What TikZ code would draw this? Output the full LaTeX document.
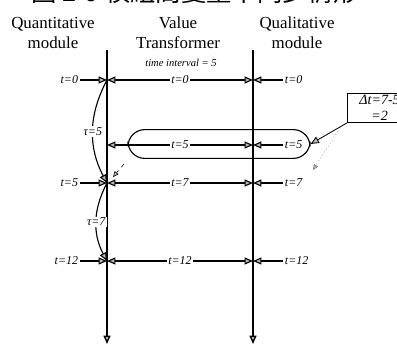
\documentclass[tikz,border=0pt]{standalone}
\usepackage{fontspec}
\setmainfont{Liberation Serif}
\newfontfamily\cjk{Noto Sans CJK TC}
\usetikzlibrary{arrows.meta}

\tikzset{
  tip/.style={-{Triangle[length=6pt, width=5pt, fill=gray!55]}},
  twotip/.style={{Triangle[length=6pt, width=5pt, fill=gray!55]}-{Triangle[length=6pt, width=5pt, fill=gray!55]}},
  tlab/.style={font=\fontsize{8.5}{9}\selectfont\itshape, fill=white, inner sep=1pt},
  head/.style={font=\fontsize{12}{14}\selectfont, align=center}
}

\begin{document}
\begin{tikzpicture}[x=0.025cm, y=-0.025cm, line width=0.8pt]
  \useasboundingbox (0,0) rectangle (397,347);
  % title, cut at the top
  \node[font=\cjk\fontsize{18}{18}\selectfont, anchor=base] (title) at (195,2)
    {圖 2-9 模組間變量不同步情形};
  % the three columns
  \node[head] (quan) at (53,33) {Quantitative\\module};
  \node[head] (vt) at (178,33) {Value\\Transformer};
  \node[head] (qual) at (297,33) {Qualitative\\module};
  \node[font=\fontsize{7.5}{8}\selectfont\itshape] (tint) at (181,63) {time interval = 5};
  % the two time lines
  \coordinate (Ltop) at (107,50);
  \coordinate (Lbot) at (107,344);
  \coordinate (Rtop) at (253,50);
  \coordinate (Rbot) at (253,344);
  \draw[line width=1pt, tip] (Ltop) -- (Lbot);
  \draw[line width=1pt, tip] (Rtop) -- (Rbot);
  % the window round the second row
  \node[draw, rounded corners=12pt, minimum width=4.55cm, minimum height=0.72cm,
        inner sep=0pt] (win) at (219,144) {};
  % the rows
  \foreach \i/\y/\mid/\rgt in {0/80/0/0, 1/145/5/5, 2/183/7/7, 3/261/12/12}{
    \coordinate (L\i) at (107,\y);
    \coordinate (R\i) at (253,\y);
    \draw[twotip] (L\i) -- node[tlab] (m\i) {t=\mid} (R\i);
    \node[tlab, anchor=west] (r\i) at (283,\y) {t=\rgt};
    \draw[tip] (r\i) -- (R\i);
  }
  \node[tlab, anchor=east] (l0) at (80,80) {t=0};
  \node[tlab, anchor=east] (l2) at (80,183) {t=5};
  \node[tlab, anchor=east] (l3) at (80,261) {t=12};
  \draw[tip] (l0) -- (L0);
  \draw[tip] (l2) -- (L2);
  \draw[tip] (l3) -- (L3);
  % the delays
  \draw[tip] (L0) to[bend right=28] node[tlab] (tau5) {τ=5} (L2);
  \draw[tip] (L2) to[bend right=28] node[tlab] (tau7) {τ=7} (L3);
  % the note
  \node[draw, anchor=north west, minimum width=1.6cm, minimum height=0.72cm,
        align=center, inner sep=1pt, font=\fontsize{10}{11}\selectfont\itshape]
        (note) at (347,93) {Δt=7-5\\=2};
  \draw[tip, line width=0.6pt] (note.south west) -- (win.east);
  % faint marks
  \coordinate (d1) at (124,164);
  \coordinate (d2) at (113,177);
  \draw[dashed, line width=0.4pt, -{Triangle[length=4pt, width=3.5pt, fill=gray!55]}] (d1) -- (d2);
  \coordinate (d3) at (338,131);
  \coordinate (d4) at (313,170);
  \draw[dotted, gray, line width=0.5pt, -{Triangle[length=4pt, width=3.5pt, fill=gray!55]}] (d3) -- (d4);
\end{tikzpicture}
\end{document}
